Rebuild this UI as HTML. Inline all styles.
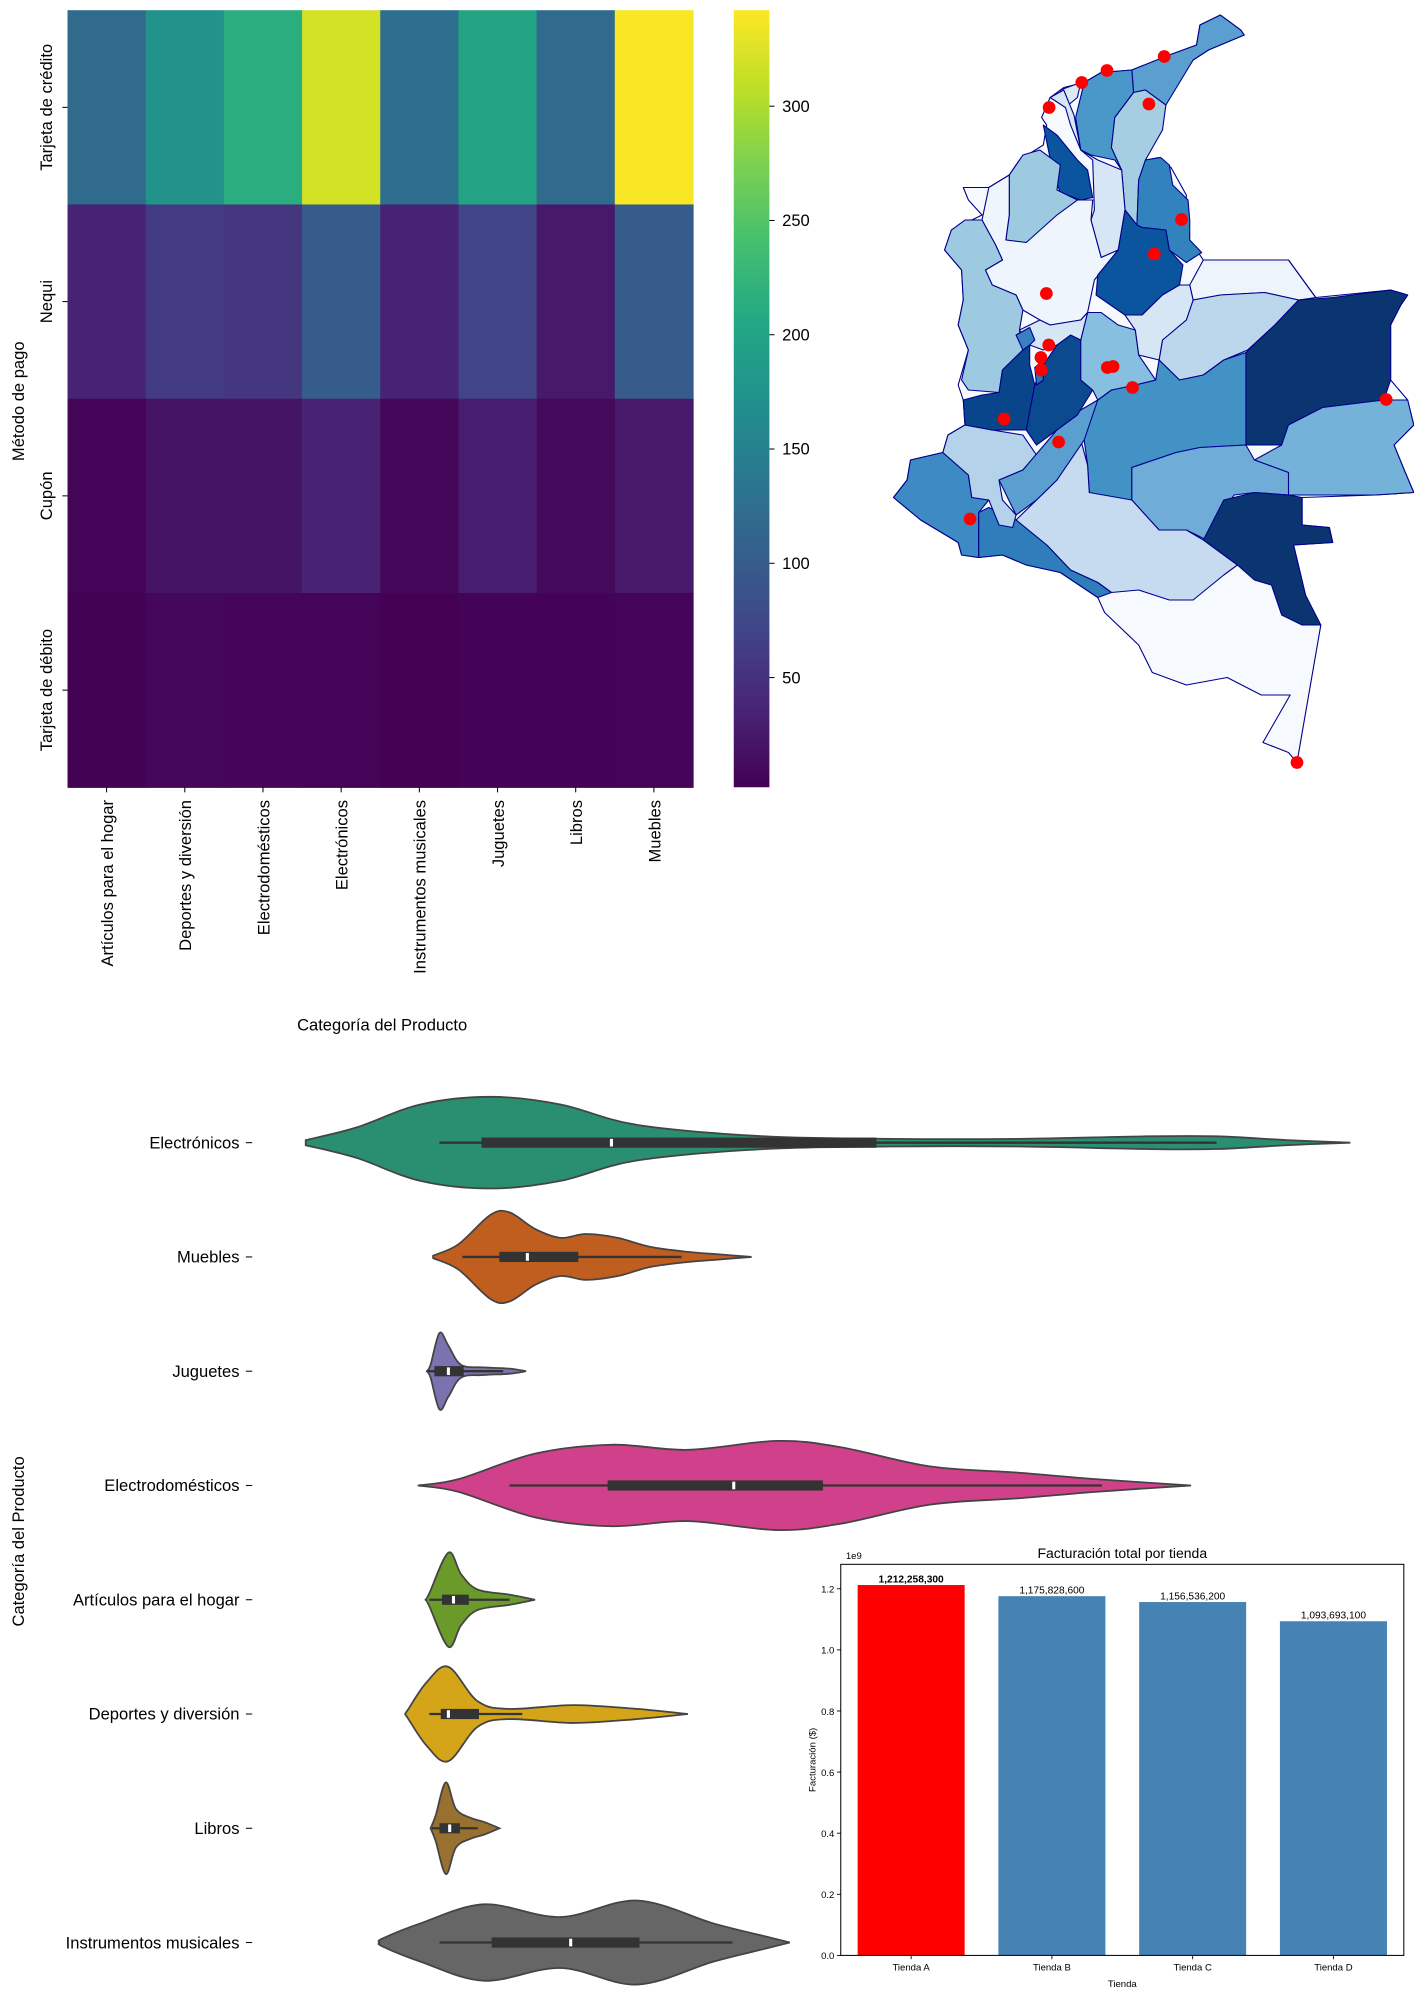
<!DOCTYPE html>
<html><head><meta charset="utf-8"><title>Dashboard</title>
<style>
html,body{margin:0;padding:0;background:#fff;}
svg{display:block;font-family:"Liberation Sans","DejaVu Sans",sans-serif;}
</style></head>
<body>
<svg id="root" width="1414" height="2000" viewBox="0 0 1110 1570" xmlns="http://www.w3.org/2000/svg">
<g id="heat"></g>
<g id="map"></g>
<g id="violin"></g>
<g id="bars"></g>
</svg>
<script>
// ---------- heatmap data ----------
const heatCategories = ["Artículos para el hogar","Deportes y diversión","Electrodomésticos","Electrónicos","Instrumentos musicales","Juguetes","Libros","Muebles"];
const heatMethods = ["Tarjeta de crédito","Nequi","Cupón","Tarjeta de débito"];
const heatCredito = [120,175,215,320,125,200,120,340];
const heatNequi = [35,60,55,100,35,70,25,100];
const heatCupon = [5,20,20,35,8,30,10,25];
const heatDebito = [3,8,7,6,2,4,4,5];
const colorbarTicks = [50,100,150,200,250,300];
// ---------- violin data ----------
const violinCategories = ["Electrónicos","Muebles","Juguetes","Electrodomésticos","Artículos para el hogar","Deportes y diversión","Libros","Instrumentos musicales"];
const violinColors = ["#2a8e70","#bf5e1e","#7a73b0","#d1408a","#6a9a2a","#d4a518","#987130","#666666"];
const violinGridElectronicos = [80,160,260,370,480,600,800,1000,1200,1400,1510,1620,1720];
const violinDensElectronicos = [2,12,30,36,30,14,5,3,3,5,5,2,0];
const violinGridMuebles = [280,320,370,400,440,480,520,570,620,680,730,780];
const violinDensMuebles = [1,10,33,35,22,15,18,15,8,4,2,0];
const violinGridJuguetes = [270,276,290,304,324,360,400,426];
const violinDensJuguetes = [0,5,30,20,5,3,2,0];
const violinGridElectrodom = [256,320,440,560,680,820,920,1060,1200,1320,1470];
const violinDensElectrodom = [0,5,25,32,28,35,30,15,10,5,0];
const violinGridArticulos = [268,274,304,324,350,400,440];
const violinDensArticulos = [0,5,37,20,8,4,0];
const violinGridDeportes = [236,240,270,304,350,400,500,600,680];
const violinDensDeportes = [0,3,25,37,10,4,7,4,0];
const violinGridLibros = [276,284,300,316,340,360,384];
const violinDensLibros = [0,10,36,15,8,5,0];
const violinGridInstrumentos = [196,200,260,360,480,600,720,800,840];
const violinDensInstrumentos = [0,3,15,30,20,33,15,5,0];
const violinQ1 = [356,384,282,554,294,292,290,372];
const violinMedian = [560,428,304,752,312,304,306,496];
const violinQ3 = [976,508,328,892,336,352,322,604];
const violinWhiskLo = [290,326,272,400,274,274,278,290];
const violinWhiskHi = [1510,670,390,1330,400,420,350,750];
// ---------- bar data ----------
const barStores = ["Tienda A","Tienda B","Tienda C","Tienda D"];
const barValues = [1212258300,1175828600,1156536200,1093693100];
const barYTicks = [0,0.2,0.4,0.6,0.8,1.0,1.2];
// ---------- map data (projected map units) ----------
const mapDotLon = [835,667,593,497,790,886,806,489,496,473,474,668,685,742,365,525,1487,265,1225];
const mapDotLat = [113,141,165,215,208,439,508,587,690,715,740,735,733,775,838,884,799,1038,1525];

const NS="http://www.w3.org/2000/svg";
function mk(tag,attrs,parent){const e=document.createElementNS(NS,tag);for(const k in attrs)e.setAttribute(k,attrs[k]);parent.appendChild(e);return e;}

const vir=["#440154","#482475","#414487","#355f8d","#2a788e","#21918c","#22a884","#44bf70","#7ad151","#bddf26","#fde725"];
function hex2rgb(h){return [parseInt(h.slice(1,3),16),parseInt(h.slice(3,5),16),parseInt(h.slice(5,7),16)];}
function viridis(t){t=Math.max(0,Math.min(1,t));const p=t*10,i=Math.min(9,Math.floor(p)),f=p-i;const a=hex2rgb(vir[i]),b=hex2rgb(vir[i+1]);return "rgb("+a.map((v,k)=>Math.round(v+(b[k]-v)*f)).join(",")+")";}

// ===== HEATMAP =====
(function(){
const g=document.getElementById('heat');
const x0=53,x1=544,y0=8,y1=618,vmin=2,vmax=342;
const cw=(x1-x0)/heatCategories.length,ch=(y1-y0)/heatMethods.length;
const rows=[heatCredito,heatNequi,heatCupon,heatDebito];
rows.forEach((r,ri)=>{r.forEach((v,ci)=>{
 const c=mk('rect',{x:x0+ci*cw,y:y0+ri*ch,width:cw+0.5,height:ch+0.5,fill:viridis((v-vmin)/(vmax-vmin))},g);
 
 
});});
heatMethods.forEach((m,i)=>{
 const cy=y0+(i+0.5)*ch;
 mk('line',{x1:x0-4,x2:x0,y1:cy,y2:cy,stroke:'#000','stroke-width':0.8},g);
 const t=mk('text',{x:0,y:0,transform:`translate(${x0-12},${cy}) rotate(-90)`,'text-anchor':'middle','font-size':13},g);
 t.textContent=m;
 
 
});
heatCategories.forEach((c,i)=>{
 const cx=x0+(i+0.5)*cw;
 mk('line',{x1:cx,x2:cx,y1:y1,y2:y1+4,stroke:'#000','stroke-width':0.8},g);
 const t=mk('text',{x:0,y:0,transform:`translate(${cx+5},${y1+10}) rotate(-90)`,'text-anchor':'end','font-size':13},g);
 t.textContent=c;
 
 
});
const yl=mk('text',{x:0,y:0,transform:`translate(19,315) rotate(-90)`,'text-anchor':'middle','font-size':13},g);
yl.textContent='Método de pago';


const xl=mk('text',{x:300,y:809,'text-anchor':'middle','font-size':13},g);
xl.textContent='Categoría del Producto';


const defs=mk('defs',{},g);
const lg=mk('linearGradient',{id:'vgrad',x1:0,y1:1,x2:0,y2:0},defs);
vir.forEach((c,i)=>mk('stop',{offset:(i/10),'stop-color':c},lg));
const cb=mk('rect',{x:576,y:y0,width:28,height:y1-y0,fill:'url(#vgrad)'},g);


colorbarTicks.forEach(v=>{
 const y=y1-(v-vmin)/(vmax-vmin)*(y1-y0);
 mk('line',{x1:604,x2:608,y1:y,y2:y,stroke:'#000','stroke-width':0.8},g);
 const t=mk('text',{x:614,y:y+4.5,'font-size':13},g);
 t.textContent=v;
 
 
});
})();

// ===== MAP =====
(function(){
const root=document.getElementById('map');
const px=x=>690.7+x*0.2673, py=y=>y*0.3925;
const g=mk('g',{transform:'translate(690.7,0) scale(0.2673,0.3925)'},root);
const shapes=[
["#f6faff","1060,60 1000,30 940,50 930,90 850,110 740,140 650,145 600,165 540,175 500,195 475,235 490,250 480,290 410,320 380,350 320,375 245,375 260,400 300,430 210,460 190,500 240,540 245,600 230,650 260,700 230,770 245,800 250,850 200,870 185,905 90,920 80,960 40,995 120,1040 230,1085 240,1110 290,1115 360,1110 430,1130 530,1145 640,1195 660,1225 760,1290 800,1345 900,1370 1020,1355 1120,1390 1205,1390 1125,1485 1200,1505 1225,1525 1295,1250 1270,1230 1250,1190 1215,1090 1330,1085 1320,1055 1240,1050 1240,995 1455,990 1568,985 1540,940 1510,890 1568,850 1550,800 1500,760 1500,650 1530,610 1550,590 1500,580 1280,595 1200,520 950,520 900,470 900,390 855,335 820,315 780,320 840,200 920,120 965,100 1070,70"],
["#5a9fcf","740,140 850,110 930,90 940,50 1000,30 1060,60 1070,70 965,100 920,120 840,210 780,180 745,185"],
["#4a98c9","600,165 650,145 740,140 745,185 690,235 680,295 710,340 690,320 620,310 590,300 575,235"],
["#a6cee3","745,185 780,180 840,210 830,260 780,320 760,360 755,450 720,420 710,340 680,295 690,235"],
["#ddeaf6","530,180 590,165 580,195 545,215"],
["#d6e6f4","500,195 540,180 570,230 590,300 625,320 630,420 620,440 650,515 700,500 720,420 710,340 640,320 590,300 560,250 545,215"],
["#0b559f","480,250 520,270 580,320 610,340 625,395 590,400 530,385 510,350"],
["#9ecae1","380,350 420,310 470,300 530,330 520,380 580,400 540,430 470,470 430,485 370,480 380,430"],
["#3182bd","760,360 780,320 825,315 850,330 860,370 905,400 910,440 910,480 945,505 900,525 850,500 840,460 770,455 755,450"],
["#eef5fc","300,440 320,375 380,350 380,430 370,480 430,485 520,430 580,400 625,400 620,440 650,515 700,500 630,560 610,625 590,640 500,650 470,640 420,620 400,590 330,570 310,540 360,520 340,490"],
["#0b559f","720,420 755,450 770,455 840,460 850,500 890,530 880,570 830,590 770,630 720,630 635,590 640,550 700,500"],
["#9ecae1","210,460 250,440 300,440 340,490 360,520 310,540 330,570 400,590 420,620 410,660 420,700 360,740 350,785 260,780 240,760 260,700 230,650 245,600 240,540 190,500"],
["#eef4fb","910,570 950,520 1200,520 1280,595 1230,600 1130,585 1000,590 920,600"],
["#bcd7ec","820,720 830,680 900,640 920,600 1000,590 1130,585 1230,600 1160,650 1080,700 1010,720 950,750 880,760 850,740"],
["#d6e6f4","720,630 770,630 830,590 880,570 910,570 920,600 900,640 830,680 820,720 760,710 750,660"],
["#0b3571","1075,705 1160,650 1230,600 1330,595 1500,580 1550,590 1530,610 1500,650 1500,760 1480,800 1300,815 1200,850 1180,890 1075,890"],
["#74b2d9","1100,920 1180,890 1200,850 1300,815 1480,800 1550,800 1568,850 1510,890 1540,940 1568,985 1455,990 1200,990 1200,945"],
["#4292c6","600,880 580,860 620,810 680,780 750,770 810,760 820,720 850,740 880,760 950,750 1010,720 1075,705 1075,890 940,895 870,905 740,935 740,1000 650,995 615,985 610,930"],
["#6fadd8","740,935 870,905 940,895 1075,890 1100,920 1200,945 1200,990 1100,985 1040,990 960,1080 900,1060 820,1060 740,1000"],
["#0b3571","950,1080 1010,1000 1100,985 1200,990 1240,995 1240,1050 1320,1055 1330,1085 1215,1090 1250,1190 1295,1250 1240,1250 1180,1230 1150,1170 1100,1160 1050,1130"],
["#c6dbef","400,1040 460,1000 520,960 590,880 610,930 615,985 740,1000 820,1060 900,1060 950,1080 1050,1130 1010,1150 920,1200 850,1200 760,1180 680,1185 640,1165 560,1140 490,1090"],
["#2f7dbb","290,1025 320,1015 400,1040 490,1090 560,1140 640,1165 680,1185 640,1195 530,1145 430,1130 360,1110 290,1115"],
["#3d8ac4","80,960 90,920 185,905 260,950 270,995 320,1000 290,1025 290,1115 240,1110 230,1085 120,1040 40,995"],
["#b4d3ea","185,905 200,870 250,850 330,860 420,870 460,910 420,940 350,960 360,1000 400,1030 390,1055 350,1050 320,1000 270,995 260,950"],
["#5b9fd0","350,960 420,940 470,900 520,860 590,820 640,800 600,880 520,960 460,1000 400,1030"],
["#08458a","250,850 245,800 300,790 350,785 360,740 420,700 440,690 440,730 455,770 430,860 330,860"],
["#0b4a8f","430,860 455,770 480,730 520,690 560,670 590,680 590,760 625,780 580,830 520,860 460,890"],
["#87bfe0","590,680 610,625 650,625 700,650 750,660 760,710 810,760 750,770 680,780 660,790 640,800 625,780 590,760"],
["#d6e6f4","410,660 470,640 500,650 590,640 610,625 590,680 560,670 520,690 480,700 440,690"],
["#3a7fc0","400,670 440,655 455,680 440,690 420,700"],
["#2e73b5","455,735 480,720 480,760 460,770"]
];
shapes.forEach(s=>{
 const p=mk('polygon',{points:s[1],fill:s[0],stroke:'#00008b','stroke-width':1.1,'stroke-linejoin':'round','vector-effect':'non-scaling-stroke'},g);
 
 
});
mapDotLon.forEach((x,i)=>{
 const c=mk('circle',{cx:px(x),cy:py(mapDotLat[i]),r:5,fill:'#ff0000'},root);
 
 
});
})();

// ===== VIOLIN =====
(function(){
const g=document.getElementById('violin');
const xs=v=>200+v*0.5;
const yTop=897,step=89.7;
const grids=[violinGridElectronicos,violinGridMuebles,violinGridJuguetes,violinGridElectrodom,violinGridArticulos,violinGridDeportes,violinGridLibros,violinGridInstrumentos];
const dens=[violinDensElectronicos,violinDensMuebles,violinDensJuguetes,violinDensElectrodom,violinDensArticulos,violinDensDeportes,violinDensLibros,violinDensInstrumentos];
function smoothPath(pts){
 let d=`M${pts[0][0]},${pts[0][1]}`;
 for(let i=0;i<pts.length-1;i++){
  const p0=pts[Math.max(0,i-1)],p1=pts[i],p2=pts[i+1],p3=pts[Math.min(pts.length-1,i+2)];
  const c1=[p1[0]+(p2[0]-p0[0])/6,p1[1]+(p2[1]-p0[1])/6];
  const c2=[p2[0]-(p3[0]-p1[0])/6,p2[1]-(p3[1]-p1[1])/6];
  d+=` C${c1[0]},${c1[1]} ${c2[0]},${c2[1]} ${p2[0]},${p2[1]}`;
 }
 return d;
}
violinCategories.forEach((cat,i)=>{
 const cy=yTop+i*step;
 const top=grids[i].map((v,k)=>[xs(v),cy-dens[i][k]]);
 const bot=grids[i].map((v,k)=>[xs(v),cy+dens[i][k]]).reverse();
 const d=smoothPath(top)+' L'+smoothPath(bot).slice(1)+' Z';
 const p=mk('path',{d:d,fill:violinColors[i],stroke:'#444','stroke-width':1.4},g);
 
 
 mk('line',{x1:xs(violinWhiskLo[i]),x2:xs(violinWhiskHi[i]),y1:cy,y2:cy,stroke:'#333','stroke-width':1.8},g);
 const b=mk('rect',{x:xs(violinQ1[i]),y:cy-4,width:xs(violinQ3[i])-xs(violinQ1[i]),height:8,fill:'#333'},g);
 
 
 mk('rect',{x:xs(violinMedian[i])-1.2,y:cy-3,width:2.4,height:6,fill:'#fff'},g);
 mk('line',{x1:193,x2:198,y1:cy,y2:cy,stroke:'#000','stroke-width':0.8},g);
 const t=mk('text',{x:188,y:cy+4.5,'text-anchor':'end','font-size':13},g);
 t.textContent=cat;
 
 
});
const yl=mk('text',{x:0,y:0,transform:'translate(19,1210) rotate(-90)','text-anchor':'middle','font-size':13},g);
yl.textContent='Categoría del Producto';


})();

// ===== BARS =====
(function(){
const g=document.getElementById('bars');
const x0=660,x1=1102,y0=1228,y1=1535,ymax=1.28e9;
const ys=v=>y1-v/ymax*(y1-y0);
const slot=(x1-x0)/barStores.length;
const t=mk('text',{x:(x0+x1)/2,y:1223,'text-anchor':'middle','font-size':11},g);
t.textContent='Facturación total por tienda';


barStores.forEach((s,i)=>{
 const cx=x0+slot*(i+0.5),w=84;
 const r=mk('rect',{x:cx-w/2,y:ys(barValues[i]),width:w,height:y1-ys(barValues[i]),fill:i===0?'#ff0000':'#4682b4'},g);
 
 
 const l=mk('text',{x:cx,y:ys(barValues[i])-2,'text-anchor':'middle','font-size':8,'font-weight':i===0?'bold':'normal'},g);
 l.textContent=barValues[i].toLocaleString('en-US');
 
 
 mk('line',{x1:cx,x2:cx,y1:y1,y2:y1+3,stroke:'#000','stroke-width':0.7},g);
 const tl=mk('text',{x:cx,y:y1+12,'text-anchor':'middle','font-size':7.5},g);
 tl.textContent=s;
 
 
});
barYTicks.forEach(v=>{
 const y=ys(v*1e9);
 mk('line',{x1:x0-3,x2:x0,y1:y,y2:y,stroke:'#000','stroke-width':0.7},g);
 const tl=mk('text',{x:x0-5,y:y+3,'text-anchor':'end','font-size':7.5},g);
 tl.textContent=v.toFixed(1);
 
 
});
const fr=mk('rect',{x:x0,y:y0,width:x1-x0,height:y1-y0,fill:'none',stroke:'#000','stroke-width':0.8},g);


const e=mk('text',{x:x0+4,y:y0-4,'font-size':7.5},g);
e.textContent='1e9';


const yl=mk('text',{x:0,y:0,transform:`translate(640,${(y0+y1)/2}) rotate(-90)`,'text-anchor':'middle','font-size':7.5},g);
yl.textContent='Facturación ($)';


const xl=mk('text',{x:(x0+x1)/2,y:1560,'text-anchor':'middle','font-size':7.5},g);
xl.textContent='Tienda';


})();
</script>
</body></html>
